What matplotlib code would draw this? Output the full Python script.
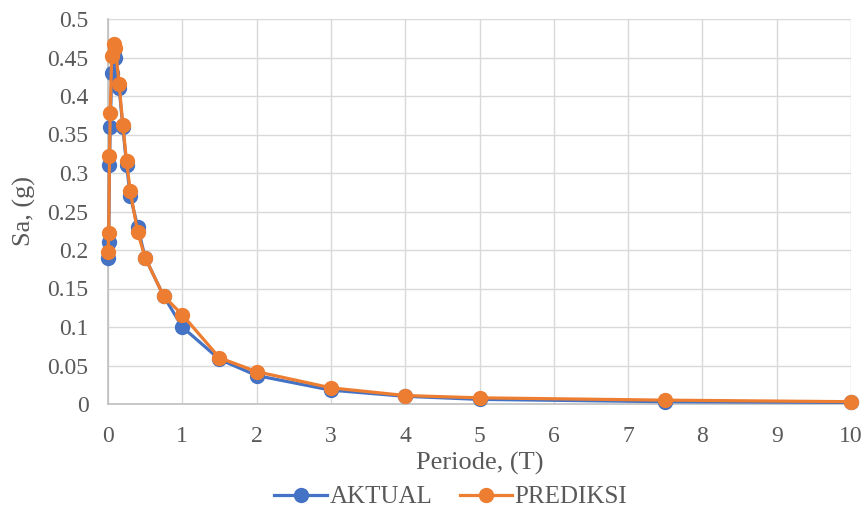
import numpy as np
import matplotlib.pyplot as plt

plt.rcParams['font.family'] = ['Liberation Serif', 'DejaVu Serif']

periode = [0, 0.01, 0.02, 0.03, 0.05, 0.075, 0.1, 0.15, 0.2, 0.25, 0.3, 0.4,
           0.5, 0.75, 1, 1.5, 2, 3, 4, 5, 7.5, 10]
aktual = [0.19, 0.21, 0.31, 0.36, 0.43, 0.455, 0.45, 0.41, 0.36, 0.31, 0.27,
          0.23, 0.19, 0.14, 0.10, 0.058, 0.037, 0.018, 0.010, 0.006, 0.003, 0.002]
prediksi = [0.198, 0.222, 0.322, 0.378, 0.452, 0.467, 0.462, 0.415, 0.362,
            0.315, 0.276, 0.223, 0.19, 0.14, 0.116, 0.06, 0.042, 0.021, 0.011,
            0.008, 0.005, 0.003]

txt = '#595959'
fig = plt.figure(figsize=(8.67, 5.12), dpi=100)
ax = fig.add_axes([108 / 867, 1 - 404 / 512, (851 - 108) / 867, (404 - 19) / 512])

ax.plot(periode, aktual, color='#4472C4', lw=2.3, marker='o', ms=10,
        label='AKTUAL', clip_on=False, zorder=3)
ax.plot(periode, prediksi, color='#ED7D31', lw=2.3, marker='o', ms=10,
        label='PREDIKSI', clip_on=False, zorder=4)

ax.set_xlim(0, 10)
ax.set_ylim(0, 0.5)
ax.set_xticks(np.arange(0, 11, 1))
ax.set_yticks(np.arange(0, 0.51, 0.05))
ax.set_yticklabels(['0'] + [f'{v:g}' for v in np.arange(0.05, 0.51, 0.05)])
ax.grid(True, color='#d9d9d9', lw=1)
ax.set_axisbelow(True)
for side in ['top', 'right']:
    ax.spines[side].set_visible(False)
for side in ['bottom', 'left']:
    ax.spines[side].set_color('#bfbfbf')
    ax.spines[side].set_linewidth(1.2)
ax.tick_params(length=0, labelsize=17, labelcolor=txt)
ax.tick_params(axis='y', pad=14)
ax.tick_params(axis='x', pad=16)
ax.set_xlabel('Periode, (T)', fontsize=19, color=txt)
ax.xaxis.set_label_coords(0.5, -0.125)
ax.set_ylabel('Sa, (g)', fontsize=19, color=txt)
ax.yaxis.set_label_coords(-0.097, 0.5)

fig.legend(loc='center', bbox_to_anchor=(0.52, 1 - 497 / 512), ncol=2, frameon=False,
           fontsize=18, labelcolor=txt, handlelength=2.1, columnspacing=1.1,
           handletextpad=0.1)

fig.savefig('out.png', dpi=100)
